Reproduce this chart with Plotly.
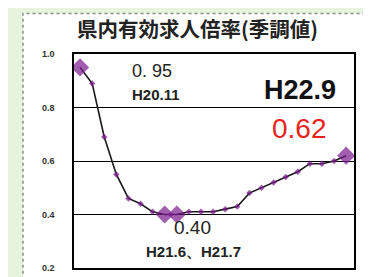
import plotly.graph_objects as go

months = ["H20.11", "H20.12"] + [f"H21.{m}" for m in range(1, 13)] + [f"H22.{m}" for m in range(1, 10)]
ratios = [0.95, 0.89, 0.69, 0.55, 0.46, 0.44, 0.41, 0.40, 0.40, 0.41, 0.41, 0.41,
          0.42, 0.43, 0.48, 0.50, 0.52, 0.54, 0.56, 0.59, 0.59, 0.60, 0.62]
highlight = ["H20.11", "H21.6", "H21.7", "H22.9"]
y_ticks = [0.2, 0.4, 0.6, 0.8, 1.0]

W, H = 371, 277
L, R, T, B = 66, 25, 46, 15
PW, PH = W - L - R, H - T - B

def px(x):
    return (x - L) / PW

def py(y):
    return (H - B - y) / PH

sizes = [14 if m in highlight else 5 for m in months]

fig = go.Figure()
fig.add_trace(go.Scatter(
    x=months, y=ratios, mode="lines+markers",
    line=dict(color="#1a1a1a", width=1.6),
    marker=dict(symbol="diamond", size=sizes, color="#7a1a8c",
                line=dict(width=0)),
    showlegend=False, hoverinfo="skip",
))

fig.update_layout(
    width=W, height=H,
    margin=dict(l=L, r=R, t=T, b=B),
    paper_bgcolor="#e6f3dd",
    plot_bgcolor="white",
    xaxis=dict(type="category", range=[-0.5, 22.65], showticklabels=False,
               showgrid=False, zeroline=False, showline=True, mirror=True,
               linecolor="#000", linewidth=1.5, ticks=""),
    yaxis=dict(range=[0.2, 1.0], tickvals=y_ticks, tickformat=".1f",
               showgrid=True, gridcolor="#000", gridwidth=1, zeroline=False,
               showline=True, mirror=True, linecolor="#000", linewidth=1.5,
               ticks="", ticklabelstandoff=16,
               tickfont=dict(family="Arial", size=9, color="#333", weight="bold")),
    shapes=[dict(type="rect", xref="paper", yref="paper",
                 x0=px(15), x1=px(362), y0=py(274), y1=py(5),
                 fillcolor="white", line=dict(color="#8a8a8a", width=1.5, dash="dot"),
                 layer="below")],
)

def ann(text, x, y, xanchor, size, color="#111", weight="normal", family="Arial"):
    fig.add_annotation(text=text, xref="paper", yref="paper", x=px(x), y=py(y),
                       xanchor=xanchor, yanchor="middle", showarrow=False,
                       font=dict(family=family, size=size, color=color, weight=weight))

ann("県内有効求人倍率(季調値)", 189, 20, "center", 20.5, "#222", "bold", "Noto Sans CJK JP")
ann("0. 95", 122, 63, "left", 18, "#222")
ann("H20.11", 122, 87, "left", 15, "#222", "bold")
ann("H22.9", 330, 82, "right", 27, "#111", "bold")
ann("0.62", 321, 121, "right", 28, "#e8241c")
ann("0.40", 164, 221, "left", 19, "#222")
ann("H21.6、H21.7", 136, 245, "left", 15, "#222", "bold")

fig.write_html("out.html")
